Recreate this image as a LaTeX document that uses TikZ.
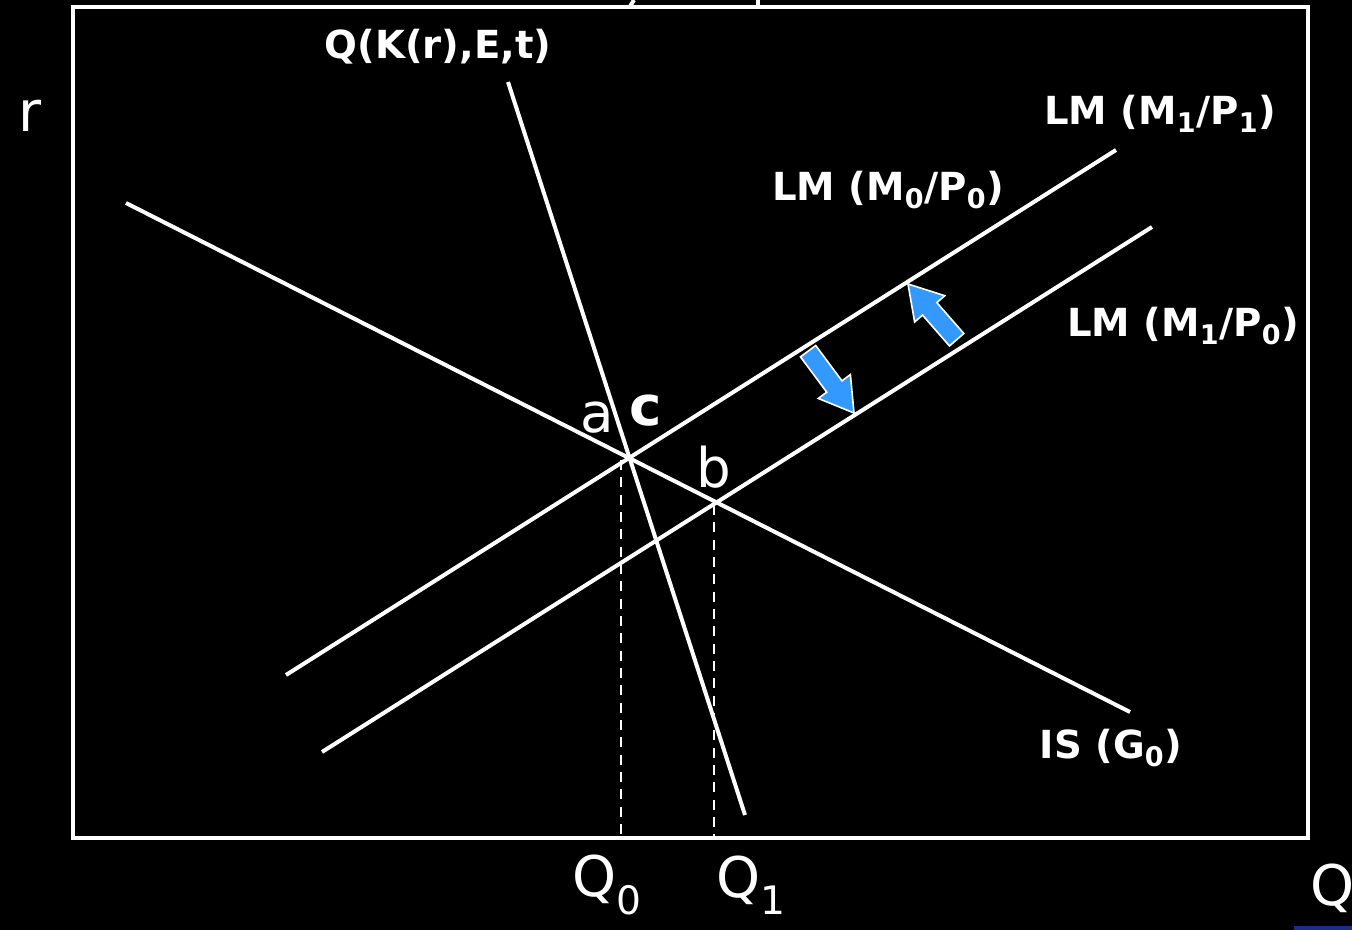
\documentclass[tikz,border=0pt]{standalone}
\usepackage{fontspec}
\setmainfont{DejaVu Sans}
\definecolor{arrowblue}{HTML}{3399FF}
\definecolor{navy}{HTML}{1A2D8A}
\begin{document}
\begin{tikzpicture}[x=0.75pt,y=-0.75pt,
  curve/.style={draw=white,line width=3pt},
  guide/.style={draw=white,line width=1.6pt,dash pattern=on 7.5pt off 5.5pt},
  lbl/.style={text=white,font=\bfseries\fontsize{29}{34}\selectfont,inner sep=0pt},
  pt/.style={text=white,font=\fontsize{41}{48}\selectfont,inner sep=0pt},
  axis/.style={text=white,font=\fontsize{42}{50}\selectfont,inner sep=0pt},
  blockarr/.style={fill=arrowblue,draw=white,line width=1.2pt,line join=miter}]
\fill[black] (0,0) rectangle (1352,930);
\useasboundingbox (0,0) rectangle (1352,930);
% frame
\draw[curve] (73,7) rectangle (1308,838);
% cut-off marks at the top
\draw[white,line width=3pt] (629,8) -- (634,0);
\draw[white,line width=3pt] (758,9) -- (758,0);
% bottom right bar
\fill[navy] (1294,926) rectangle (1352,930);
% curve end points
\coordinate (is1) at (126,203);
\coordinate (is2) at (1130,712);
\coordinate (q1) at (508,82);
\coordinate (q2) at (745,815);
\coordinate (lma1) at (286,675);
\coordinate (lma2) at (1116,150);
\coordinate (lmb1) at (322,752);
\coordinate (lmb2) at (1152,227);
\draw[curve] (is1) -- (is2);
\draw[curve] (q1) -- (q2);
\draw[curve] (lma1) -- (lma2);
\draw[curve] (lmb1) -- (lmb2);
% dashed guides
\coordinate (d0t) at (621,460);
\coordinate (d0b) at (621,838);
\coordinate (d1t) at (714,505);
\coordinate (d1b) at (714,838);
\draw[guide] (d0t) -- (d0b);
\draw[guide] (d1t) -- (d1b);
% block arrows
\begin{scope}[shift={(854,413)},rotate=-53.4]
\draw[blockarr] (0,0) -- (-33,-20) -- (-33,-9.5) -- (-77,-9.5) -- (-77,9.5) -- (-33,9.5) -- (-33,20) -- cycle;
\end{scope}
\begin{scope}[shift={(908,284)},rotate=131.1]
\draw[blockarr] (0,0) -- (-33,-20) -- (-33,-9.5) -- (-74,-9.5) -- (-74,9.5) -- (-33,9.5) -- (-33,20) -- cycle;
\end{scope}
% labels
\node[lbl] (qlab) at (438,47) {Q(K(r),E,t)};
\node[lbl] (lm11) at (1160,114) {LM (M\textsubscript{1}/P\textsubscript{1})};
\node[lbl] (lm00) at (888,190) {LM (M\textsubscript{0}/P\textsubscript{0})};
\node[lbl] (lm10) at (1183,326) {LM (M\textsubscript{1}/P\textsubscript{0})};
\node[lbl] (islab) at (1111,748) {IS (G\textsubscript{0})};
\node[pt] (la) at (597,418) {a};
\node[pt,font=\bfseries\fontsize{41}{48}\selectfont] (lc) at (646,411) {c};
\node[pt] (lb) at (714,467) {b};
\node[axis] (lq0) at (607,885) {Q\textsubscript{0}};
\node[axis] (lq1) at (751,885) {Q\textsubscript{1}};
\node[axis] (lq) at (1333,888) {Q};
\node[axis] (lr) at (30,116) {r};
\end{tikzpicture}
\end{document}
